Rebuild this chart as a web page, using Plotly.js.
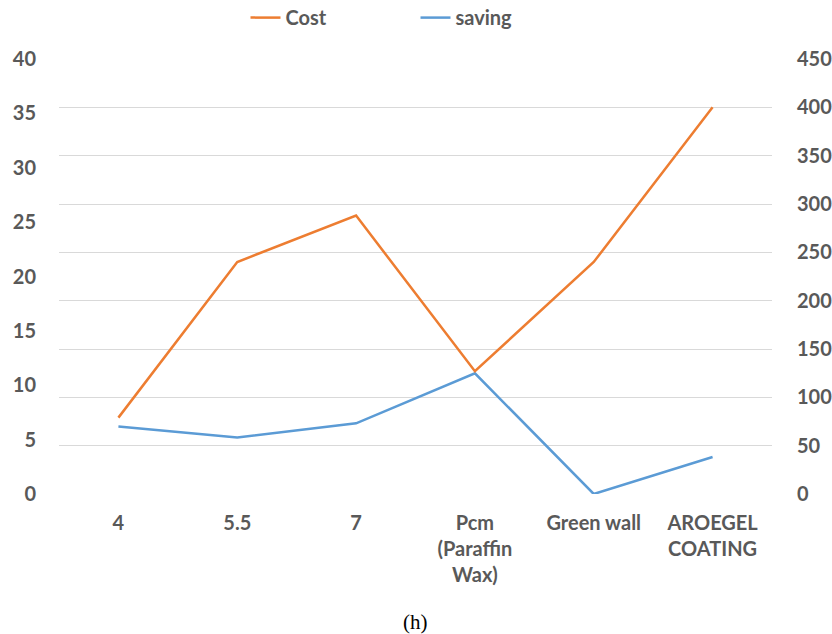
<!DOCTYPE html>
<html>
<head>
<meta charset="utf-8">
<script src="https://cdn.plot.ly/plotly-3.0.1.min.js"></script>
<style>html,body{margin:0;padding:0;background:#fff;}#chart{width:832px;height:634px;}</style>
</head>
<body>
<div id="chart"></div>
<script>
const categories = ["4", "5.5", "7", "Pcm<br>(Paraffin<br>Wax)", "Green wall", "AROEGEL<br>COATING"];
const costValues = [79, 240, 288, 127, 240, 400];
const savingValues = [6.2, 5.2, 6.5, 11.1, 0, 3.4];
const leftTicks = [0, 5, 10, 15, 20, 25, 30, 35, 40];
const rightTicks = [0, 50, 100, 150, 200, 250, 300, 350, 400, 450];

const textColor = '#595959';
const baseFont = {family: 'Lato, "Open Sans", sans-serif', size: 20, color: textColor, weight: 'bold'};

const traces = [
  {x: categories, y: costValues, name: 'Cost', type: 'scatter', mode: 'lines',
   yaxis: 'y2', line: {color: '#ED7D31', width: 2.5}},
  {x: categories, y: savingValues, name: 'saving', type: 'scatter', mode: 'lines',
   yaxis: 'y', line: {color: '#5B9BD5', width: 2.5}}
];

const layout = {
  width: 832, height: 634,
  margin: {l: 59, r: 60, t: 59, b: 140, autoexpand: false},
  paper_bgcolor: '#fff', plot_bgcolor: '#fff',
  font: baseFont,
  showlegend: true,
  legend: {orientation: 'h', x: 0.5, xanchor: 'center', y: 1.14, yanchor: 'top',
           font: baseFont, entrywidth: 125, entrywidthmode: 'pixels'},
  xaxis: {type: 'category', range: [-0.5, 5.5], showgrid: false, zeroline: false, showline: false,
          ticks: 'outside', ticklen: 11, tickcolor: 'rgba(0,0,0,0)',
          tickfont: baseFont, fixedrange: true},
  yaxis: {range: [0, 40], tickvals: leftTicks, showgrid: false, zeroline: false,
          showline: false, ticks: 'outside', ticklen: 18, tickcolor: 'rgba(0,0,0,0)',
          tickfont: baseFont},
  yaxis2: {range: [0, 450], tickvals: rightTicks, overlaying: 'y', side: 'right',
           showgrid: true, gridcolor: '#d9d9d9', gridwidth: 1, zeroline: false,
           showline: false, ticks: 'outside', ticklen: 20, tickcolor: 'rgba(0,0,0,0)',
           tickfont: baseFont},
  annotations: [{text: '(h)', xref: 'paper', yref: 'paper', x: 0.5, y: -0.295,
                 xanchor: 'center', yanchor: 'middle', showarrow: false,
                 font: {family: '"Liberation Serif", "Times New Roman", serif', size: 21, color: '#000', weight: 'normal'}}]
};

Plotly.newPlot('chart', traces, layout, {displayModeBar: false, staticPlot: true});
</script>
</body>
</html>
